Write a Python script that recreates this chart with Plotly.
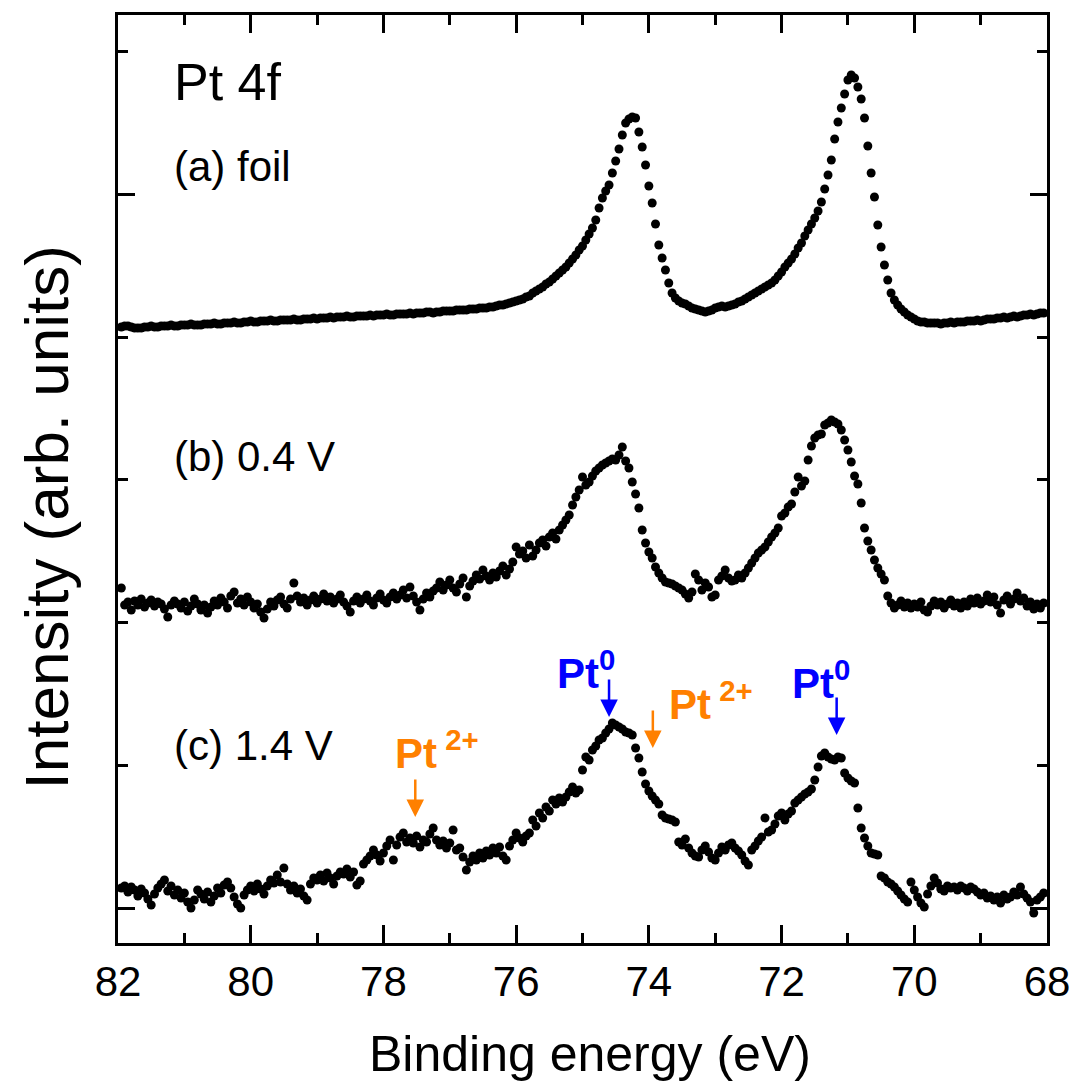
import numpy as np
import plotly.graph_objects as go

# Pt 4f XPS spectra, binding energy grid (eV), high -> low
E_START = 81.95
E_STEP = 0.05

# Stacked intensities (arb. units), one value per grid point
foil = [
    581, 582, 582, 581, 580, 580, 580, 581, 581, 582, 581, 581, 582, 582, 582, 583, 582, 582, 583, 583, 583, 584, 583, 583,
    583, 584, 584, 584, 585, 584, 584, 585, 585, 585, 586, 585, 585, 586, 586, 587, 586, 586, 587, 587, 587, 588, 587, 587, 588, 588, 588, 588, 589, 588,
    588, 589, 589, 589, 590, 589, 590, 590, 590, 591, 590, 591, 591, 591, 592, 591, 591, 592, 592, 592, 592, 593, 592, 593, 593, 593, 594, 593, 593, 594,
    594, 594, 594, 595, 594, 595, 595, 595, 596, 596, 595, 596, 596, 597, 597, 597, 597, 598, 598, 598,
    598, 599, 599, 599, 600, 600, 600, 601, 601, 602,
    603, 603, 604, 605, 606, 607, 608, 609, 611, 612,
    615, 617, 619, 621, 624,
    626, 629, 632, 635, 638,
    641, 645, 649, 653, 658, 662, 668, 674, 680, 688,
    700, 710, 717, 723, 735, 747, 759, 773, 785, 789,
    791, 790, 776, 761, 743, 722, 705, 684, 663, 650,
    638, 625, 615, 610, 607, 605, 604, 602, 600, 599,
    598, 597, 596, 597, 598, 600, 601, 602, 601, 602,
    603, 604, 606, 607, 609, 611, 613, 615, 617, 619,
    621, 623, 625, 628, 632, 636, 641, 645, 649, 654,
    660, 665, 672, 678, 684, 690, 697, 706, 719, 733,
    748, 769, 786, 800, 814, 828, 833, 830, 821, 809,
    790, 762, 735, 711, 683, 661, 643, 628, 615, 608,
    603, 599, 596, 593, 591, 589, 587, 586, 586, 585, 585,
    585, 585, 584, 585, 585, 586, 585,
    586, 586, 586, 587, 587, 587, 588, 587, 588, 589,
    589, 589, 590, 590, 591, 590, 591, 592, 591, 592,
    593, 593, 594, 593, 594, 595, 595,
]

v_04 = [
    320, 303, 306, 298, 307, 303, 309, 301, 305, 308,
    302, 306, 304, 299, 291, 303, 307, 304, 300, 306,
    297, 302, 309, 304, 298, 303, 295, 301, 307, 303,
    310, 306, 300, 312, 316, 305, 309, 303, 311, 306,
    300, 304, 296, 290, 299, 306, 302, 308, 311, 304,
    300, 309, 325, 312, 306, 310, 303, 308, 312, 305,
    309, 314, 307, 311, 305, 309, 313, 306, 302, 296,
    307, 311, 305, 309, 313, 307, 303, 310, 314, 308,
    305, 311, 315, 309, 313, 318, 310, 321, 312, 306,
    298, 309, 315, 311, 317, 320, 326, 318, 323, 328,
    320, 316, 324, 330, 311, 322, 327, 333, 329, 338,
    332, 328, 335, 331, 337, 342, 333, 339, 346, 361,
    354, 357, 350, 363, 352, 358, 365, 368, 362, 371,
    375, 369, 378, 383, 388, 393, 403, 411, 418, 431,
    423, 426, 432, 437, 440, 443, 445, 447, 449, 448,
    453, 461, 447, 440, 426, 414, 400, 378, 365, 356,
    350, 341, 335, 330, 326, 325, 324, 322, 320, 318,
    314, 310, 316, 334, 328, 318, 325, 321, 311, 313,
    328, 332, 338, 330, 327, 328, 333, 330, 335, 340,
    345, 350, 355, 358, 361, 366, 371, 375, 380, 392,
    395, 401, 404, 416, 431, 422, 427, 448, 462, 470,
    473, 474, 483, 485, 488, 486, 484, 478, 468, 458,
    446, 432, 424, 405, 380, 367, 358, 348, 340, 334,
    328, 312, 305, 300, 303, 307, 301, 305, 300, 304,
    301, 306, 298, 296, 302, 307, 303, 306, 300, 304,
    308, 302, 305, 300, 306, 302, 309, 305, 310, 304,
    307, 313, 306, 311, 303, 295, 308, 312, 304, 309,
    315, 307, 310, 302, 306, 299, 304, 300, 305,
]

v_14 = [
    20, 22, 16, 21, 18, 12, 19, 15, 9, 3,
    14, 20, 24, 28, 17, 22, 13, 18, 10, 15,
    6, 0, 8, 18, 14, 9, 16, 6, 12, 20,
    15, 23, 26, 20, 11, 4, 0, 13, 18, 22,
    17, 24, 19, 14, 22, 28, 25, 33, 26, 40,
    24, 18, 22, 15, 19, 12, 8, 24, 30, 28,
    33, 27, 35, 30, 24, 32, 36, 34, 39, 31,
    36, 23, 27, 44, 48, 52, 58, 53, 47, 55,
    62, 68, 48, 63, 71, 75, 66, 70, 65, 72,
    61, 68, 66, 74, 80, 68, 63, 67, 60, 65,
    78, 58, 60, 51, 38, 46, 52, 48, 55, 50,
    57, 53, 60, 55, 61, 52, 48, 62, 68, 75,
    70, 66, 72, 75, 88, 82, 95, 90, 101, 97,
    108, 104, 110, 106, 111, 116, 121, 115, 118, 138,
    151, 148, 158, 162, 168, 170, 175, 179, 185, 183,
    181, 179, 176, 175, 173, 160, 150, 136, 124, 117,
    112, 108, 104, 93, 90, 89, 88, 86, 66, 63,
    69, 60, 55, 52, 51, 58, 62, 56, 50, 48,
    55, 61, 58, 63, 65, 60, 57, 53, 47, 43,
    58, 62, 67, 71, 90, 76, 78, 84, 92, 95,
    88, 94, 97, 105, 108, 111, 114, 116, 119, 128,
    141, 152, 155, 151, 149, 148, 151, 150, 135, 130,
    127, 125, 100, 80, 70, 62, 55, 54, 53, 32,
    30, 26, 24, 21, 17, 13, 9, 6, 26, 18,
    11, 5, 1, 14, 22, 30, 25, 19, 17, 22,
    20, 21, 18, 22, 20, 17, 21, 19, 16, 13,
    15, 10, 12, 8, 11, 5, 13, 9, 11, 16,
    13, 21, 14, 10, 6, -5, 8, 11, 15,
]

spectra = [foil, v_04, v_14]
spectrum_labels = ["(a) foil", "(b) 0.4 V", "(c) 1.4 V"]
label_y = [742, 452, 163]

x_ticks = [82, 80, 78, 76, 74, 72, 70, 68]
x_tick_text = [str(t) for t in x_ticks]

# Oxidation-state markers: (text, colour, label x, label y, arrow x, arrow tip y)
PT0 = "Pt<sup>0</sup>"
PT2 = "Pt<sup> 2+</sup>"
markers = [
    (PT2, "#FF8000", 77.86, 129, 77.52, 91),
    (PT0, "#0000FF", 75.41, 209, 74.60, 191),
    (PT2, "#FF8000", 73.73, 178, 73.94, 160),
    (PT0, "#0000FF", 71.87, 199, 71.17, 173),
]

UNIT = 142.67  # one minor tick step on the intensity axis
FONT = "Arial, Liberation Sans, sans-serif"

energy = E_START - E_STEP * np.arange(len(foil))

fig = go.Figure()
for vals in spectra:
    fig.add_trace(go.Scatter(
        x=energy, y=vals, mode="markers",
        marker=dict(size=9, color="black", line=dict(width=0)),
        showlegend=False, hoverinfo="skip", cliponaxis=True,
    ))

annotations = [
    dict(text="Pt 4f", x=0.058, y=0.928, xref="paper", yref="paper",
         xanchor="left", yanchor="middle", showarrow=False,
         font=dict(size=52, color="black", family=FONT)),
    dict(text="Intensity (arb. units)", x=-0.077, y=0.459, xref="paper", yref="paper",
         xanchor="center", yanchor="middle", textangle=-90, showarrow=False,
         font=dict(size=62, color="black", family=FONT)),
    dict(text="Binding energy (eV)", x=0.508, y=-0.12, xref="paper", yref="paper",
         xanchor="center", yanchor="middle", showarrow=False,
         font=dict(size=50, color="black", family=FONT)),
]
for txt, yv in zip(spectrum_labels, label_y):
    annotations.append(dict(text=txt, x=81.18, y=yv, xref="x", yref="y",
                            xanchor="left", yanchor="middle", showarrow=False,
                            font=dict(size=42, color="black", family=FONT)))
for txt, col, lx, ly, axv, tip in markers:
    annotations.append(dict(text="<b>" + txt + "</b>", x=lx, y=ly, xref="x", yref="y",
                            xanchor="left", yanchor="bottom", showarrow=False,
                            font=dict(size=42, color=col, family=FONT)))
    annotations.append(dict(text="", x=axv, y=tip, xref="x", yref="y",
                            ax=0, ay=-39, showarrow=True, arrowhead=2,
                            arrowsize=1.4, arrowwidth=2.5, arrowcolor=col))

fig.update_layout(
    width=1071, height=1081, autosize=False,
    margin=dict(l=118, r=24, t=15, b=138, autoexpand=False),
    paper_bgcolor="white", plot_bgcolor="white",
    annotations=annotations,
    font=dict(family=FONT, color="black"),
)
fig.update_xaxes(
    range=[82, 68], tickmode="array", tickvals=x_ticks, ticktext=x_tick_text,
    ticks="inside", ticklen=18, tickwidth=2.5, tickcolor="black",
    minor=dict(dtick=1, tick0=0, ticks="inside", ticklen=10, tickwidth=2.5, tickcolor="black"),
    showline=True, linewidth=3, linecolor="black", mirror="ticks",
    showgrid=False, zeroline=False, automargin=False, ticklabeloverflow="allow",
    tickfont=dict(size=42, family=FONT, color="black"), ticklabelstandoff=0,
)
fig.update_yaxes(
    range=[-35, 893], tickmode="linear", tick0=0, dtick=5 * UNIT,
    ticks="inside", ticklen=17, tickwidth=2.5, tickcolor="black",
    minor=dict(dtick=UNIT, tick0=0, ticks="inside", ticklen=10, tickwidth=2.5, tickcolor="black"),
    showline=True, linewidth=3, linecolor="black", mirror="ticks",
    showgrid=False, zeroline=False, showticklabels=False, automargin=False,
)

fig.write_html("out.html")
